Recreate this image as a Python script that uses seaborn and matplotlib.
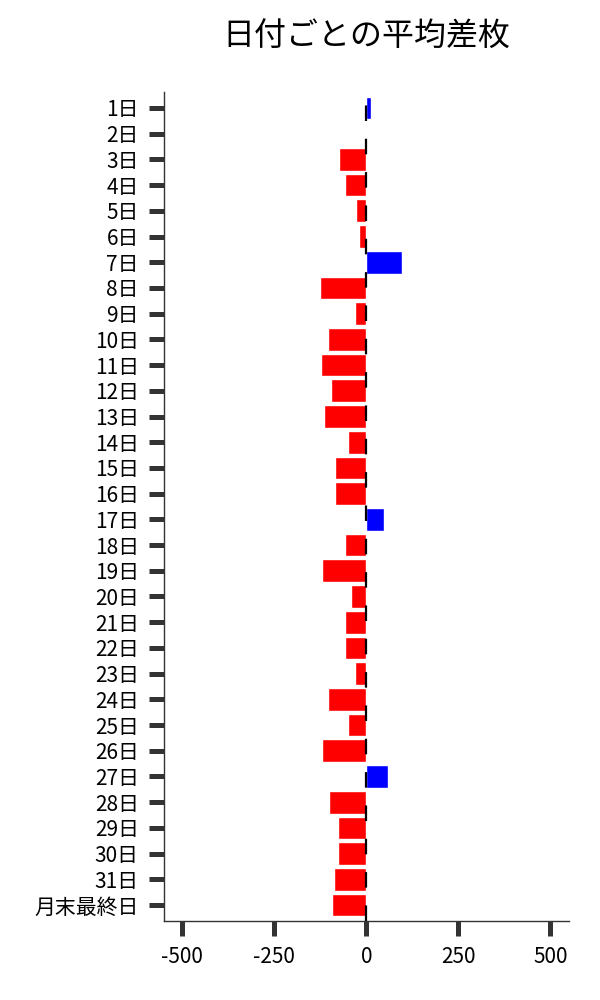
import numpy as np
import pandas as pd
import matplotlib
matplotlib.use("Agg")
import matplotlib.pyplot as plt
import seaborn as sns

# 日付ごとの平均差枚 (値は画像から読み取り)
days = [f"{i}日" for i in range(1, 32)] + ["月末最終日"]
avg_diff = [13, -2, -73, -59, -27, -19, 96, -126, -30, -105,
            -122, -95, -114, -49, -86, -86, 49, -57, -119, -41,
            -59, -57, -32, -105, -51, -119, 59, -100, -78, -78,
            -89, -92]

df = pd.DataFrame({"日付": days, "平均差枚": avg_diff})
df["符号"] = np.where(df["平均差枚"] >= 0, "plus", "minus")

sns.set_style("ticks")
plt.rcParams['font.family'] = ['Noto Sans CJK JP', 'DejaVu Sans']
plt.rcParams['axes.unicode_minus'] = False

fig, ax = plt.subplots(figsize=(6, 10), dpi=100)
fig.subplots_adjust(left=0.273, right=0.948, bottom=0.079, top=0.908)

sns.barplot(data=df, x="平均差枚", y="日付", hue="符号", order=days,
            palette={"plus": "blue", "minus": "red"}, dodge=False,
            width=0.88, legend=False, saturation=1, ax=ax)

# 0 の位置に点線
ax.axvline(0, color="black", lw=1.6, linestyle=(0, (7.0, 8.0)))

ax.set_xlim(-550, 550)
ax.set_ylim(len(days) - 1 + 0.62, -0.62)
ax.set_xticks([-500, -250, 0, 250, 500])
ax.set_xlabel("")
ax.set_ylabel("")
ax.set_title("日付ごとの平均差枚", fontsize=23, pad=33, color="black")

ax.tick_params(axis="both", length=11, width=3.6, color="#333333",
               pad=7, labelsize=15, labelcolor="black")
sns.despine(ax=ax)
for s in ["left", "bottom"]:
    ax.spines[s].set_color("#333333")
    ax.spines[s].set_linewidth(1.0)

plt.savefig("out.png")
